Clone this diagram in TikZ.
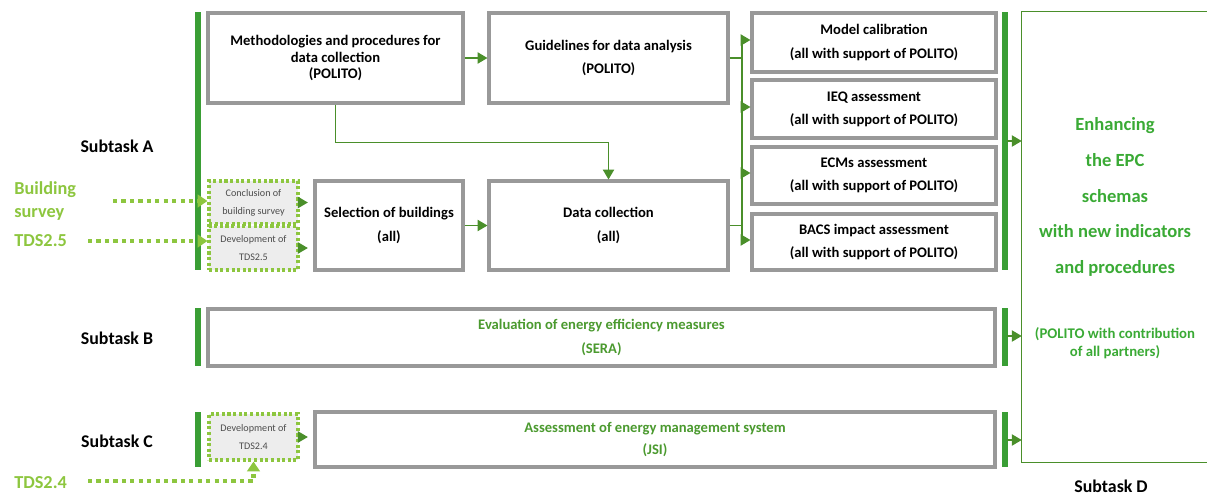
\documentclass[tikz,border=0pt]{standalone}
\usepackage{fontspec}
\setmainfont{Carlito}
\usetikzlibrary{arrows.meta}
\definecolor{dgreen}{HTML}{3A9E35}
\definecolor{agreen}{HTML}{4A8F2A}
\definecolor{lgreen}{HTML}{8DC63F}
\definecolor{tgreen}{HTML}{3AAA35}
\definecolor{bgreen}{HTML}{4B9A2F}
\definecolor{bgrey}{HTML}{999999}
\definecolor{dfill}{HTML}{EDEDED}
\newcommand\px{0.025cm}
\tikzset{
  box/.style={draw=bgrey, line width=2.2pt, fill=white, align=center, inner sep=1pt,
    font=\bfseries\fontsize{10.4}{16.5}\selectfont},
  dbox/.style={draw=lgreen, line width=2.2pt, dash pattern=on 2.2pt off 1.8pt, fill=dfill,
    align=center, inner sep=1pt, text=black!70, font=\fontsize{7.2}{12.8}\selectfont},
  conn/.style={draw=agreen, line width=0.9pt},
  arr/.style={conn, -{Triangle[length=7pt,width=8pt]}},
  dots/.style={draw=lgreen, line width=3pt, dash pattern=on 3pt off 3pt,
    -{Triangle[length=7pt,width=9pt]}},
  bar/.style={draw=dgreen, line width=3.6pt},
  sub/.style={font=\bfseries\fontsize{12.7}{14}\selectfont},
  ltext/.style={text=lgreen, anchor=west, align=left, inner sep=0pt,
    font=\bfseries\fontsize{13}{16.5}\selectfont},
}
\begin{document}
\begin{tikzpicture}[x=\px, y=-\px]
\useasboundingbox (0,0) rectangle (1207,495);

% Subtask A boxes
\node[box, minimum width=255*\px, minimum height=90*\px] (meth) at (335.5,58)
  {Methodologies and procedures for\\[-4.5pt]data collection\\[-4.5pt](POLITO)};
\node[box, minimum width=239*\px, minimum height=90*\px] (guide) at (608.5,58)
  {Guidelines for data analysis\\(POLITO)};
\node[box, minimum width=244*\px, minimum height=59*\px] (model) at (874,42.5)
  {Model calibration\\(all with support of POLITO)};
\node[box, minimum width=244*\px, minimum height=58*\px] (ieq) at (874,109)
  {IEQ assessment\\(all with support of POLITO)};
\node[box, minimum width=244*\px, minimum height=57*\px] (ecm) at (874,175.5)
  {ECMs assessment\\(all with support of POLITO)};
\node[box, minimum width=244*\px, minimum height=56*\px] (bacs) at (874,242)
  {BACS impact assessment\\(all with support of POLITO)};
\node[box, minimum width=148*\px, minimum height=89*\px] (sel) at (389,225.5)
  {Selection of buildings\\(all)};
\node[box, minimum width=239*\px, minimum height=89*\px] (dcol) at (608.5,225.5)
  {Data collection\\(all)};
\node[dbox, minimum width=89*\px, minimum height=43*\px] (concl) at (253.5,202.5)
  {Conclusion of\\building survey};
\node[dbox, minimum width=89*\px, minimum height=44*\px] (dev25) at (253.5,248)
  {Development of\\TDS2.5};

% Subtask B
\node[box, minimum width=787*\px, minimum height=57*\px, text=bgreen,
  font=\bfseries\fontsize{10.4}{16.5}\selectfont] (evalB) at (601.5,337.5)
  {Evaluation of energy efficiency measures\\(SERA)};

% Subtask C
\node[dbox, minimum width=89*\px, minimum height=46*\px] (dev24) at (253.5,437)
  {Development of\\TDS2.4};
\node[box, minimum width=680*\px, minimum height=55*\px, text=bgreen,
  font=\bfseries\fontsize{10.4}{15}\selectfont] (assC) at (655,439.5)
  {Assessment of energy management system\\(JSI)};

% Subtask D
\node[minimum width=190*\px, minimum height=450*\px] (D) at (1117,237) {};
\draw[conn] (D.north east) -- (D.north west) -- (D.south west) -- (D.south east);
\node[text=tgreen, align=center, font=\bfseries\fontsize{13.2}{25.3}\selectfont] (Dt) at (1115,197)
  {Enhancing\\the EPC\\schemas\\with new indicators\\and procedures};
\node[text=tgreen, align=center, font=\bfseries\fontsize{10.5}{12.8}\selectfont] (Ds) at (1115,343)
  {(POLITO with contribution\\of all partners)};

% Labels
\node[sub] (sa) at (117,146) {Subtask A};
\node[sub] (sb) at (117,338) {Subtask B};
\node[sub] (sc) at (117,441) {Subtask C};
\node[sub] (sd) at (1111,486) {Subtask D};
\node[ltext] (bs) at (14,201) {Building\\survey};
\node[ltext] (t25) at (14,241) {TDS2.5};
\node[ltext] (t24) at (14,483) {TDS2.4};

% Bars
\draw[bar] (198,12) -- (198,270);
\draw[bar] (1005,12) -- (1005,270);
\draw[bar] (198,308) -- (198,366);
\draw[bar] (1005,308) -- (1005,366);
\draw[bar] (198,412) -- (198,467);
\draw[bar] (1005,412) -- (1005,467);

% Connectors
\draw[arr] (meth.east) -- (guide.west);
\draw[arr] (meth.south) -- ++(0,38) -| (dcol.north);
\draw[arr] (sel.east) -- (dcol.west);
\draw[arr, shorten >=4pt] (concl.east) -- (concl.east -| sel.west);
\draw[arr, shorten >=4pt] (dev25.east) -- (dev25.east -| sel.west);
\draw[arr, shorten >=4pt] (dev24.east) -- (dev24.east -| assC.west);

\coordinate (b1) at (742,40);
\coordinate (b2) at (742,107);
\coordinate (b3) at (742,173);
\coordinate (b4) at (742,240);
\draw[conn] (guide.east) -- (guide.east -| b1);
\draw[conn] (dcol.east) -- (dcol.east -| b1);
\draw[conn] (b1) -- (b4);
\draw[arr] (b1) -- (b1 -| model.west);
\draw[arr] (b2) -- (b2 -| ieq.west);
\draw[arr] (b3) -- (b3 -| ecm.west);
\draw[arr] (b4) -- (b4 -| bacs.west);

\coordinate (ra) at (1007,141);
\coordinate (rb) at (1007,336);
\coordinate (rc) at (1007,440);
\draw[arr] (ra) -- (ra -| D.west);
\draw[arr] (rb) -- (rb -| D.west);
\draw[arr] (rc) -- (rc -| D.west);

% Dotted inputs
\coordinate (bse) at (113,201);
\coordinate (t25e) at (88,241);
\coordinate (t24e) at (88,481);
\draw[dots] (bse) -- (bse -| concl.west);
\draw[dots] (t25e) -- (t25e -| dev25.west);
\draw[dots] (t24e) -| (dev24.south);
\end{tikzpicture}
\end{document}
